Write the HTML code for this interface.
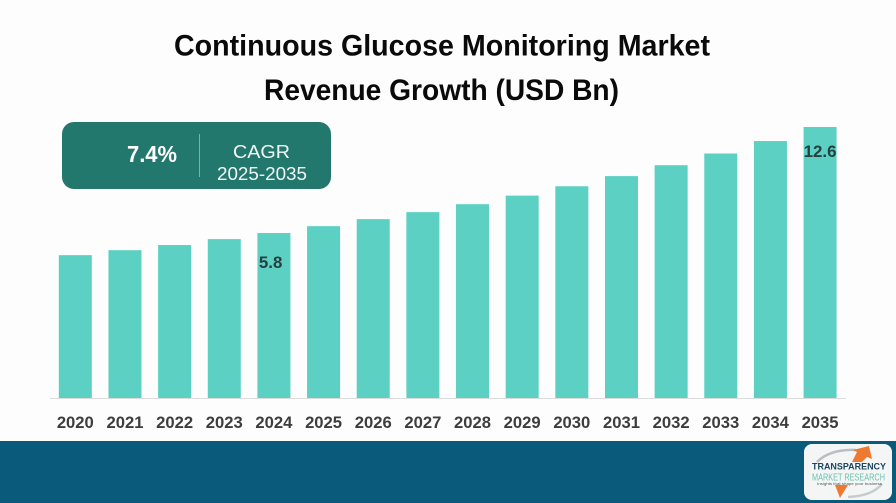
<!DOCTYPE html>
<html>
<head>
<meta charset="utf-8">
<style>
html,body{margin:0;padding:0;width:896px;height:503px;overflow:hidden;background:#fdfdfd}
svg{display:block}
text{font-family:"Liberation Sans",sans-serif}
</style>
</head>
<body>
<svg id="chart" width="896" height="503" viewBox="0 0 896 503" xmlns="http://www.w3.org/2000/svg">
  <defs>
    <filter id="soft" x="-5%" y="-5%" width="110%" height="110%"><feGaussianBlur stdDeviation="0.35"/></filter>
  </defs>
  <rect x="0" y="0" width="896" height="503" fill="#fdfdfd"/>
  <text x="174" y="55.5" font-size="30" font-weight="700" fill="#0a0a0a" textLength="536" lengthAdjust="spacingAndGlyphs">Continuous Glucose Monitoring Market</text>
  <text x="264" y="100" font-size="30" font-weight="700" fill="#0a0a0a" textLength="355" lengthAdjust="spacingAndGlyphs">Revenue Growth (USD Bn)</text>
  <g id="bars"></g>
  <line x1="50" y1="398.5" x2="846" y2="398.5" stroke="#dcdcdc" stroke-width="1"/>
  <g id="ticks"></g>
  <g id="labels"></g>
  <g>
    <rect x="62" y="122" width="269" height="67" rx="12" fill="#23786e"/>
    <text x="127" y="162" font-size="23" font-weight="700" fill="#ffffff" textLength="50" lengthAdjust="spacingAndGlyphs">7.4%</text>
    <line x1="199.5" y1="134" x2="199.5" y2="177" stroke="#7fb0a9" stroke-width="1"/>
    <text x="233" y="158" font-size="18" fill="#f2f7f6" textLength="57" lengthAdjust="spacingAndGlyphs">CAGR</text>
    <text x="217" y="180" font-size="18" fill="#f2f7f6" textLength="90" lengthAdjust="spacingAndGlyphs">2025-2035</text>
  </g>
  <rect x="0" y="441" width="896" height="62" fill="#0a5a7c"/>
  <g filter="url(#soft)">
    <rect x="804" y="444" width="88" height="56" rx="8" fill="#f4f6f6"/>
    <path d="M817 462 Q830 449 856 450" fill="none" stroke="#b9bec0" stroke-width="2.5"/>
    <path d="M882 484 Q872 496 848 497" fill="none" stroke="#c6cbcc" stroke-width="2.5"/>
    <polygon points="852,462 857,452 853,450 869,446 872,459 867,457 862,462" fill="#ee7a30"/>
    <polygon points="835,485 848,485 840,498" fill="#ee7a30"/>
    <text x="812" y="469.5" font-size="9.5" font-weight="700" fill="#1c4560" textLength="74" lengthAdjust="spacingAndGlyphs">TRANSPARENCY</text>
    <text x="812" y="480.5" font-size="10" fill="#6cc0ae" textLength="73" lengthAdjust="spacingAndGlyphs">MARKET RESEARCH</text>
    <text x="817" y="485" font-size="3.5" fill="#555555" textLength="65" lengthAdjust="spacingAndGlyphs">Insights that shape your business</text>
  </g>
</svg>
<script>
const years = ["2020","2021","2022","2023","2024","2025","2026","2027","2028","2029","2030","2031","2032","2033","2034","2035"];
const revenue = [4.38,4.70,5.03,5.41,5.8,6.24,6.69,7.14,7.65,8.2,8.8,9.45,10.15,10.9,11.7,12.6];
const printedLabels = {"2024":"5.8","2035":"12.6"};

const SVG_NS = "http://www.w3.org/2000/svg";
const barsGroup = document.getElementById("bars");
const ticksGroup = document.getElementById("ticks");
const labelsGroup = document.getElementById("labels");

const plot = {left: 50.5, step: 49.65, barWidth: 33, base: 398, top: 127};
const domainMin = -4.78;
const domainMax = 12.6;

function xScale(i) {
  return plot.left + plot.step * i + plot.step / 2;
}
function yScale(v) {
  return plot.base - (v - domainMin) / (domainMax - domainMin) * (plot.base - plot.top);
}
function labelStyle(year) {
  if (year === "2024") return {dx: -3.3, dy: 35, width: 23.5};
  return {dx: 0, dy: 30, width: 33};
}

years.forEach(function (year, i) {
  const cx = xScale(i);
  const top = yScale(revenue[i]);

  const bar = document.createElementNS(SVG_NS, "rect");
  bar.setAttribute("x", cx - plot.barWidth / 2);
  bar.setAttribute("y", top);
  bar.setAttribute("width", plot.barWidth);
  bar.setAttribute("height", plot.base - top);
  bar.setAttribute("fill", "#5bd0c3");
  
  
  barsGroup.appendChild(bar);

  const tick = document.createElementNS(SVG_NS, "text");
  tick.setAttribute("x", cx);
  tick.setAttribute("y", 428);
  tick.setAttribute("text-anchor", "middle");
  tick.setAttribute("font-size", "17");
  tick.setAttribute("font-weight", "700");
  tick.setAttribute("fill", "#3d3d3d");
  tick.setAttribute("textLength", "37");
  tick.setAttribute("lengthAdjust", "spacingAndGlyphs");
  tick.textContent = year;
  
  
  ticksGroup.appendChild(tick);

  if (printedLabels[year]) {
    const style = labelStyle(year);
    const label = document.createElementNS(SVG_NS, "text");
    label.setAttribute("x", cx + style.dx);
    label.setAttribute("y", top + style.dy);
    label.setAttribute("text-anchor", "middle");
    label.setAttribute("font-size", "17");
    label.setAttribute("font-weight", "700");
    label.setAttribute("fill", "#26403f");
    label.setAttribute("textLength", style.width);
    label.setAttribute("lengthAdjust", "spacingAndGlyphs");
    label.textContent = printedLabels[year];
    
    
    labelsGroup.appendChild(label);
  }
});
</script>
</body>
</html>
